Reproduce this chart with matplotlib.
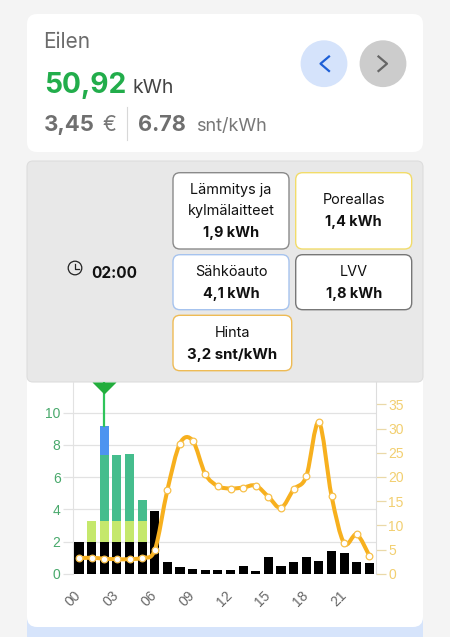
import matplotlib
matplotlib.use('Agg')
import matplotlib.pyplot as plt
from matplotlib.patches import FancyBboxPatch, Circle, Rectangle, PathPatch
from matplotlib.path import Path
import numpy as np

UI_FONT = 'Inter'
CHART_FONT = 'Liberation Sans'

hours = list(range(24))
hour_labels = ['00', '03', '06', '09', '12', '15', '18', '21']
hour_ticks = [0, 3, 6, 9, 12, 15, 18, 21]

heating = [2.0, 2.0, 2.0, 2.0, 2.0, 2.0, 3.9, 0.75, 0.4, 0.3, 0.2, 0.25,
           0.25, 0.45, 0.17, 1.05, 0.5, 0.72, 1.03, 0.8, 1.43, 1.3, 0.72, 0.68]
pool = [0, 1.3, 1.3, 1.3, 1.3, 1.3, 0, 0, 0, 0, 0, 0,
        0, 0, 0, 0, 0, 0, 0, 0, 0, 0, 0, 0]
car = [0, 0, 4.1, 4.1, 4.15, 1.3, 0, 0, 0, 0, 0, 0,
       0, 0, 0, 0, 0, 0, 0, 0, 0, 0, 0, 0]
water = [0, 0, 1.8, 0, 0, 0, 0, 0, 0, 0, 0, 0,
         0, 0, 0, 0, 0, 0, 0, 0, 0, 0, 0, 0]
price = [3.2, 3.3, 3.1, 3.0, 3.0, 3.3, 4.9, 17.3, 26.9, 27.5, 20.6, 18.1,
         17.6, 17.8, 18.2, 15.9, 13.6, 17.4, 20.1, 31.3, 16.1, 6.3, 8.1, 3.7]

selected_hour = 2
left_ticks = [0, 2, 4, 6, 8, 10]
right_ticks = [0, 5, 10, 15, 20, 25, 30, 35]

title = 'Eilen'
total = '50,92'
cost = '3,45'
avg_price = '6.78'
clock = '02:00'


def card(ax, x0, y0, x1, y1, r, face, edge='none', lw=0, z=1):
    ax.add_patch(FancyBboxPatch((x0 + r, y0 + r), x1 - x0 - 2*r, y1 - y0 - 2*r,
                                boxstyle='round,pad=%f,rounding_size=%f' % (r, r),
                                fc=face, ec=edge, lw=lw, zorder=z))


def smooth_path(xs, ys):
    # catmull-rom through the points, as bezier segments
    verts = [(xs[0], ys[0])]
    codes = [Path.MOVETO]
    n = len(xs)
    for i in range(n - 1):
        p0 = max(i - 1, 0)
        p3 = min(i + 2, n - 1)
        verts.append((xs[i] + (xs[i+1] - xs[p0])/6, ys[i] + (ys[i+1] - ys[p0])/6))
        verts.append((xs[i+1] - (xs[p3] - xs[i])/6, ys[i+1] - (ys[p3] - ys[i])/6))
        verts.append((xs[i+1], ys[i+1]))
        codes += [Path.CURVE4, Path.CURVE4, Path.CURVE4]
    return Path(verts, codes)


W, H = 450, 637
fig = plt.figure(figsize=(W/100, H/100), dpi=100, facecolor='#f4f4f4')

ui = fig.add_axes([0, 0, 1, 1])
ui.set_xlim(0, W)
ui.set_ylim(H, 0)
ui.axis('off')

# blue strip under the chart card, then the cards
ui.add_patch(Rectangle((27, 610), 396, 27, fc='#d6e4fb', ec='none', zorder=0))
card(ui, 27, 370, 423, 627, 10, 'white')
card(ui, 27, 14, 423, 152, 10, 'white')
card(ui, 27, 161, 423, 382, 6, '#e8e8e8', '#dddddd', 0.8, z=2)

# header card
ui.text(43, 42, title, family=UI_FONT, fontsize=15, color='#6b6b6b', va='center')
ui.text(44, 92.7, total, family=UI_FONT, fontsize=20.3, fontweight='bold', color='#22ad4b', va='baseline')
ui.text(132, 93, 'kWh', family=UI_FONT, fontsize=14, color='#444444', va='baseline')
ui.text(44, 131, cost, family=UI_FONT, fontsize=16, fontweight='bold', color='#6f6f6f', va='baseline')
ui.text(102, 131, '€', family=UI_FONT, fontsize=15, color='#777777', va='baseline')
ui.plot([127.3, 127.3], [107, 140], color='#d8d8d8', lw=0.8)
ui.text(138, 131, avg_price, family=UI_FONT, fontsize=15.6, fontweight='bold', color='#6f6f6f', va='baseline')
ui.text(196, 131, 'snt/kWh', family=UI_FONT, fontsize=13, color='#777777', va='baseline')

ui.add_patch(Circle((324, 63.7), 23.4, fc='#d5e3fb', ec='none'))
ui.add_patch(Circle((383, 63.7), 23.4, fc='#cccccc', ec='none'))
ui.plot([329, 320.5, 329], [56.5, 63.7, 71], color='#1d5fd6', lw=1.6)
ui.plot([378.5, 387, 378.5], [56.5, 63.7, 71], color='#666666', lw=1.6)

# detail boxes
boxes = [
    (173, 172.7, 289, 249, '#8a8a8a', [('Lämmitys ja', 190, False, 10.4), ('kylmälaitteet', 211.5, False, 10.4), ('1,9 kWh', 232.5, True, 10.4)]),
    (295.7, 172.7, 411.7, 249, '#f2dc6a', [('Poreallas', 200.5, False, 10.4), ('1,4 kWh', 222, True, 10.4)]),
    (173, 254.7, 289, 309.7, '#a6c3ee', [('Sähköauto', 272.5, False, 10.4), ('4,1 kWh', 294, True, 10.4)]),
    (295.7, 254.7, 411.7, 309.7, '#777777', [('LVV', 272.5, False, 10.4), ('1,8 kWh', 294, True, 10.4)]),
    (173, 315.3, 291.7, 370.7, '#eebb55', [('Hinta', 333, False, 10.4), ('3,2 snt/kWh', 355, True, 10.8)]),
]
for x0, y0, x1, y1, edge, lines in boxes:
    card(ui, x0, y0, x1, y1, 7, 'white', edge, 1.0, z=3)
    for txt, y, bold, size in lines:
        ui.text((x0 + x1)/2, y, txt, family=UI_FONT, fontsize=size, ha='center', va='center',
                color='#111111', fontweight='bold' if bold else 'normal', zorder=4)

ui.add_patch(Circle((75, 268), 6.8, fc='none', ec='#222222', lw=0.9, zorder=4))
ui.plot([75, 75, 79], [263.5, 268.5, 268.5], color='#222222', lw=0.9, zorder=4)
ui.text(91.5, 273, clock, family=UI_FONT, fontsize=11, fontweight='bold', color='#111111', va='center', zorder=4)

# chart
ax_left, ax_right, ax_top, ax_bottom = 72.7, 375.7, 382.0, 573.7
ax = fig.add_axes([ax_left/W, 1 - ax_bottom/H, (ax_right - ax_left)/W, (ax_bottom - ax_top)/H], zorder=1)
ax.patch.set_alpha(0)
ax.set_xlim(-0.5, 23.5)
ax.set_ylim(0, (ax_bottom - ax_top)/16.1)

x = np.array(hours)
heating_a = np.array(heating)
pool_a = np.array(pool)
car_a = np.array(car)
bar_w = 0.72
ax.bar(x, heating_a, width=bar_w, color='black', zorder=3)
ax.bar(x, pool_a, bottom=heating_a, width=bar_w, color='#c5e86c', zorder=3)
ax.bar(x, car_a, bottom=heating_a + pool_a, width=bar_w, color='#45bd8d', zorder=3)
ax.bar(x, water, bottom=heating_a + pool_a + car_a, width=bar_w, color='#4d94f0', zorder=3)

# selected hour marker, flat triangle hanging from the top edge
top = heating[selected_hour] + pool[selected_hour] + car[selected_hour] + water[selected_hour]
ymax = ax.get_ylim()[1]
ax.plot([selected_hour, selected_hour], [top, ymax], color='#2fc45a', lw=1.6, zorder=4)
ax.plot([selected_hour], [ymax], marker=[(-1, 0), (1, 0), (0, -1)], ms=17.3, color='#22ad3c', mec='none',
        zorder=5, clip_on=False)

ax.set_yticks(left_ticks)
ax.set_yticklabels([str(v) for v in left_ticks], family=CHART_FONT, fontsize=10, color='#49a96c')
ax.set_xticks(hour_ticks)
ax.set_xticklabels(hour_labels, family=CHART_FONT, fontsize=10, color='#666666', rotation=45,
                   ha='right', va='center', rotation_mode='anchor')
ax.tick_params(axis='x', length=0, pad=14.4)
ax.tick_params(axis='y', length=7.2, width=0.9, color='#e2e2e2', pad=1.5)
ax.grid(axis='y', color='#e2e2e2', lw=0.9, zorder=0)
for side in ['top', 'bottom']:
    ax.spines[side].set_visible(False)
ax.spines['left'].set_color('#e2e2e2')
ax.spines['right'].set_visible(False)

ax2 = ax.twinx()
ax2.set_zorder(2)
ax2.patch.set_alpha(0)
ax2.set_ylim(0, (ax_bottom - ax_top)/4.84)
ax2.set_yticks(right_ticks)
ax2.set_yticklabels([str(v) for v in right_ticks], family=CHART_FONT, fontsize=10, color='#f2cf70')
ax2.tick_params(axis='y', length=7.2, width=0.9, color='#ead9a8', pad=2)
for side in ['top', 'bottom', 'left']:
    ax2.spines[side].set_visible(False)
ax2.spines['right'].set_color('#dddddd')

ax2.add_patch(PathPatch(smooth_path(hours, price), fc='none', ec='#f7b01e', lw=2.9, capstyle='round', zorder=5))
ax2.plot(hours, price, ls='none', marker='o', ms=4.8, mfc='white', mec='#f7c04a', mew=0.9, zorder=6)

plt.savefig('out.png', dpi=100, facecolor=fig.get_facecolor())
